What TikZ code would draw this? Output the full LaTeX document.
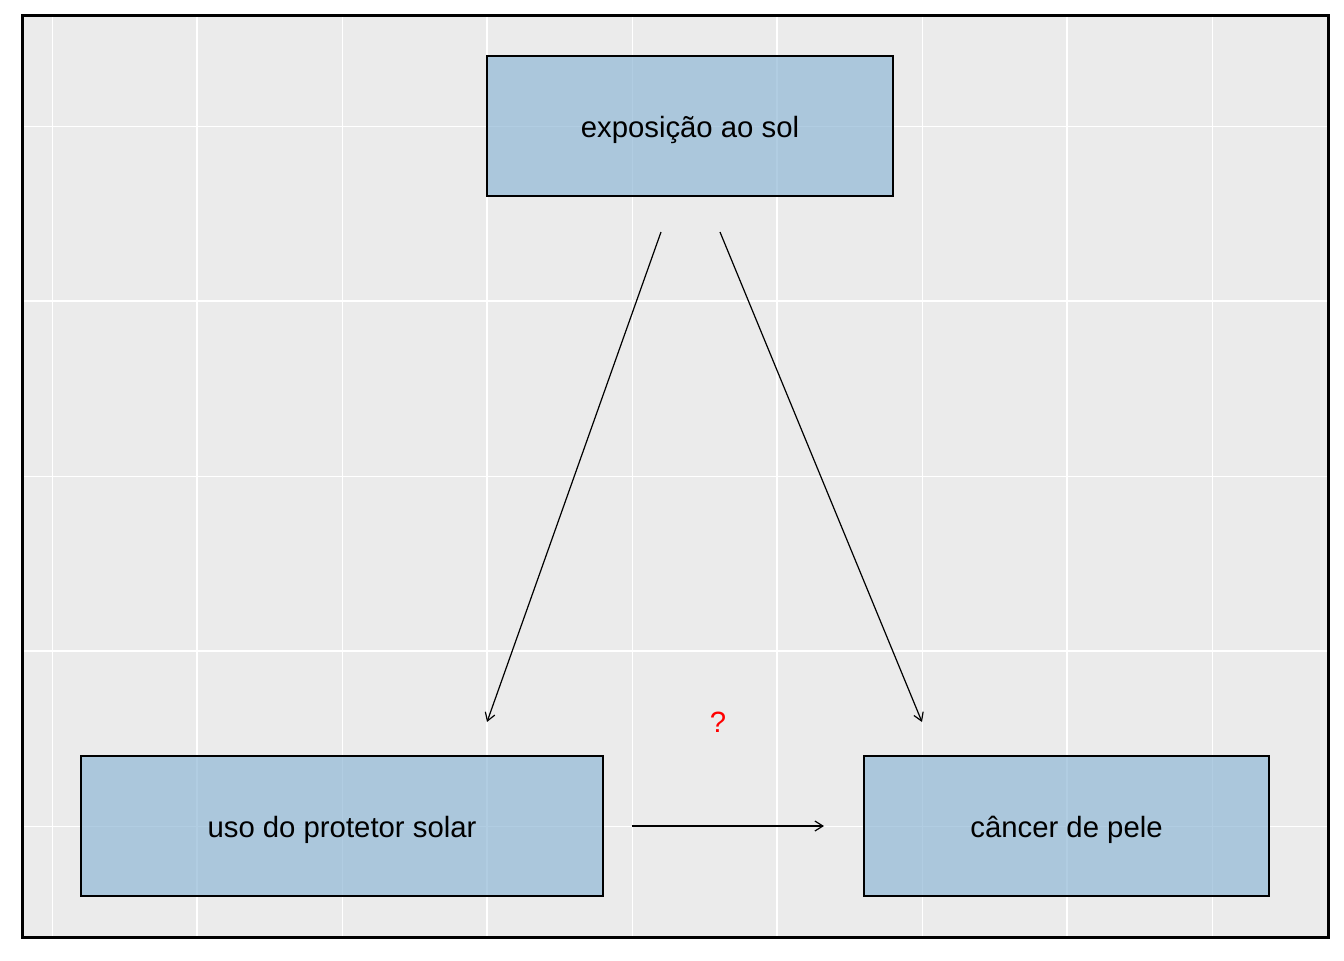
\documentclass[tikz,border=0pt]{standalone}
\usepackage{fontspec}
\setmainfont{Liberation Sans}
\usetikzlibrary{arrows.meta}
\definecolor{panelgray}{RGB}{235,235,235}
\definecolor{boxblue}{RGB}{145,185,215}
\begin{document}
\begin{tikzpicture}[x=0.5pt,y=-0.5pt]
\tikzset{every node/.style={font=\fontsize{14.66}{17}\selectfont}}
\tikzset{varbox/.style={draw=black,line width=0.75pt,fill=boxblue,fill opacity=0.7,text opacity=1,minimum height=70pt,inner sep=0pt,text height=11.1pt,text depth=0pt}}
\tikzset{arr/.style={-{Straight Barb[length=4pt,width=5pt]},line width=0.6pt}}
\tikzset{major/.style={draw=white,line width=1pt}}
\tikzset{minor/.style={draw=white,line width=0.5pt}}
\useasboundingbox (0,0) rectangle (1344,960);
\fill[panelgray] (22,15) rectangle (1328,937);
% grid
\foreach \gx in {52,342,632,922,1212} \draw[minor] (\gx,15) -- (\gx,937);
\foreach \gx in {197,487,777,1067} \draw[major] (\gx,15) -- (\gx,937);
\foreach \gy in {126,476,826} \draw[minor] (22,\gy) -- (1328,\gy);
\foreach \gy in {301,651} \draw[major] (22,\gy) -- (1328,\gy);
% boxes
\node[varbox,minimum width=203pt] (sol) at (690,126) {exposição ao sol};
\node[varbox,minimum width=261pt] (protetor) at (342,826) {uso do protetor solar};
\node[varbox,minimum width=202.5pt] (cancer) at (1066.5,826) {câncer de pele};
\node[text=red] (q) at (718,722) {?};
% arrows
\coordinate (solL) at (661,232);
\coordinate (solR) at (720,232);
\coordinate (protTop) at (487,722);
\coordinate (cancTop) at (922,722);
\coordinate (protR) at (632,826);
\coordinate (cancL) at (824,826);
\draw[arr] (solL) -- (protTop);
\draw[arr] (solR) -- (cancTop);
\draw[arr] (protR) -- (cancL);
\draw[line width=1.5pt] (22,15) rectangle (1328,937);
\end{tikzpicture}
\end{document}
